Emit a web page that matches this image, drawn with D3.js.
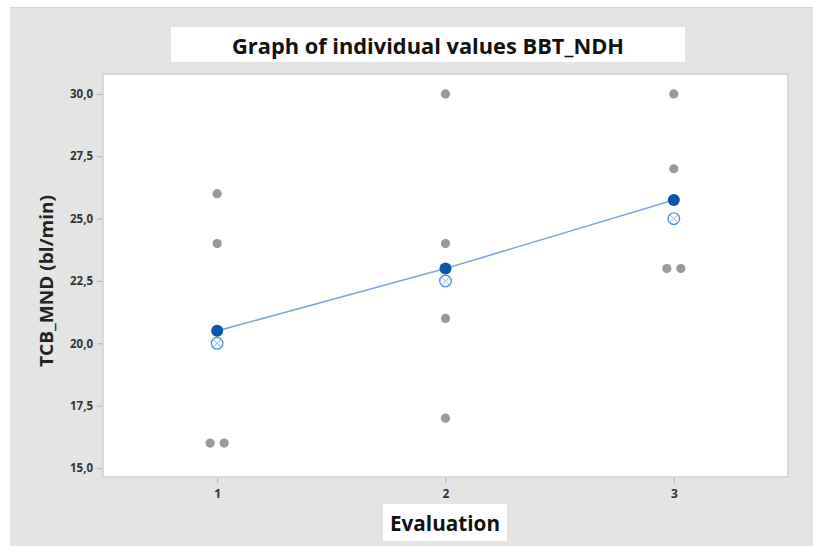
<!DOCTYPE html>
<html><head><meta charset="utf-8">
<script src="https://cdn.jsdelivr.net/npm/d3@7"></script>
<style>body{margin:0;background:#fff}svg{display:block}</style>
</head><body>
<svg id="c" width="813" height="546"></svg>
<script>
const categories = [1, 2, 3];
const values1 = [26, 24, 16, 16];
const values2 = [30, 24, 21, 17];
const values3 = [30, 27, 23, 23];
const groups = [values1, values2, values3];
const yTicks = [15, 17.5, 20, 22.5, 25, 27.5, 30];
const title = "Graph of individual values BBT_NDH";
const xTitle = "Evaluation";
const yTitle = "TCB_MND (bl/min)";

const svg = d3.select("#c");
const font = "'Open Sans', 'DejaVu Sans', sans-serif";

// background
svg.append("rect").attr("x", 10).attr("y", 7).attr("width", 803).attr("height", 539).attr("fill", "#e4e4e4");
svg.append("line").attr("x1", 10).attr("x2", 813).attr("y1", 7.5).attr("y2", 7.5).attr("stroke", "#d8d8d8");

const L = 103, R = 788, T = 74, B = 477;
const x = d3.scaleLinear().domain([0.5, 3.5]).range([L, R]);
const y = d3.scaleLinear().domain([14.64, 30.8]).range([B, T]);

svg.append("rect").attr("x", L).attr("y", T).attr("width", R - L).attr("height", B - T)
  .attr("fill", "#fff").attr("stroke", "#cfcfcf").attr("stroke-width", 1.5);

// title box
svg.append("rect").attr("x", 171).attr("y", 27).attr("width", 514).attr("height", 35).attr("fill", "#fff");
svg.append("text").attr("x", 428).attr("y", 54).attr("text-anchor", "middle")
  .attr("font-family", font).attr("font-weight", "bold").attr("font-size", 21)
  .attr("fill", "#111").attr("textLength", 392).attr("lengthAdjust", "spacingAndGlyphs").text(title);

// axes
const yAxis = d3.axisLeft(y).tickValues(yTicks).tickSize(5).tickPadding(4)
  .tickFormat(d => d3.format(".1f")(d).replace(".", ","));
const gy = svg.append("g").attr("transform", `translate(${L - 1},0)`).call(yAxis);
gy.select(".domain").remove();
gy.selectAll("line").attr("stroke", "#b0b0b0");
gy.selectAll("text").attr("font-family", font).attr("font-weight", "bold").attr("font-size", 11.5).attr("fill", "#333");

const xAxis = d3.axisBottom(x).tickValues(categories).tickSize(5).tickPadding(6).tickFormat(d3.format("d"));
const gx = svg.append("g").attr("transform", `translate(0,${B + 1})`).call(xAxis);
gx.select(".domain").remove();
gx.selectAll("line").attr("stroke", "#b0b0b0");
gx.selectAll("text").attr("font-family", font).attr("font-weight", "bold").attr("font-size", 12).attr("fill", "#333");

// axis titles
svg.append("rect").attr("x", 383).attr("y", 504).attr("width", 124).attr("height", 37).attr("fill", "#fff");
svg.append("text").attr("x", 445).attr("y", 531).attr("text-anchor", "middle")
  .attr("font-family", font).attr("font-weight", "bold").attr("font-size", 22).attr("fill", "#111")
  .attr("textLength", 110).attr("lengthAdjust", "spacingAndGlyphs").text(xTitle);
svg.append("text").attr("transform", "translate(53,281) rotate(-90)").attr("text-anchor", "middle")
  .attr("font-family", font).attr("font-weight", "bold").attr("font-size", 17).attr("fill", "#222")
  .attr("textLength", 172).attr("lengthAdjust", "spacingAndGlyphs").text(yTitle);

// individual points (ties spread side by side)
const pts = [];
groups.forEach((vals, i) => {
  const counts = d3.rollup(vals, v => v.length, v => v);
  const seen = new Map();
  vals.forEach(v => {
    const n = counts.get(v), k = seen.get(v) || 0; seen.set(v, k + 1);
    pts.push({cat: categories[i], v, off: (k - (n - 1) / 2) * 14});
  });
});
svg.append("g").selectAll("circle").data(pts).join("circle")
  .attr("cx", d => x(d.cat) + d.off).attr("cy", d => y(d.v)).attr("r", 4.6).attr("fill", "#9a9a9a");

// medians
const med = groups.map((g, i) => ({cat: categories[i], v: d3.median(g)}));
const mg = svg.append("g").selectAll("g").data(med).join("g")
  .attr("transform", d => `translate(${x(d.cat)},${y(d.v)})`);
mg.append("circle").attr("r", 5.8).attr("fill", "#fff").attr("stroke", "#5a92d6").attr("stroke-width", 1.4);
const r = 5.8 * Math.SQRT1_2;
mg.append("path").attr("d", `M${-r},${-r}L${r},${r}M${-r},${r}L${r},${-r}`).attr("stroke", "#8ab2e2").attr("stroke-width", 1);

// means + connect line
const means = groups.map((g, i) => ({cat: categories[i], v: d3.mean(g)}));
svg.append("path").datum(means)
  .attr("d", d3.line().x(d => x(d.cat)).y(d => y(d.v)))
  .attr("fill", "none").attr("stroke", "#7eaadd").attr("stroke-width", 1.6);
svg.append("g").selectAll("circle").data(means).join("circle")
  .attr("cx", d => x(d.cat)).attr("cy", d => y(d.v)).attr("r", 6).attr("fill", "#0b55ad");
</script>
</body></html>
